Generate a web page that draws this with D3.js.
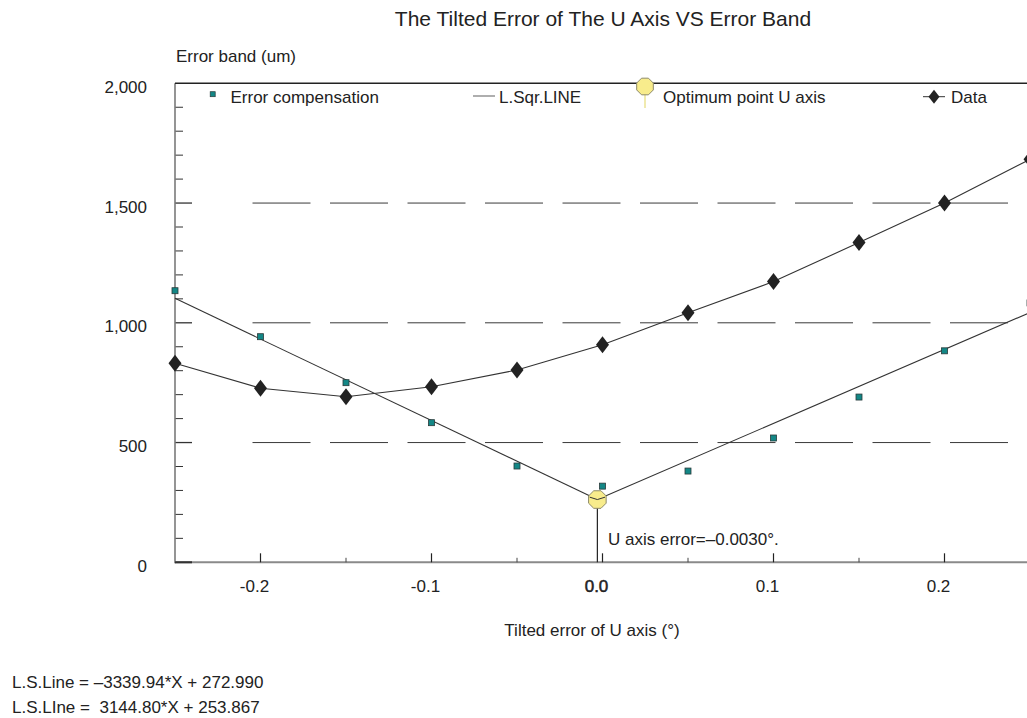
<!DOCTYPE html>
<html>
<head>
<meta charset="utf-8">
<script src="https://cdn.jsdelivr.net/npm/d3@7"></script>
<style>
  body { margin: 0; background: #fff; }
  svg { display: block; font-family: "Liberation Sans", Arial, Helvetica, sans-serif; }
  text { fill: #222; }
</style>
</head>
<body>
<div id="d3-container"></div>
<script>
/**
 * DATA
 * */
const tiltX = [-0.25, -0.2, -0.15, -0.1, -0.05, 0.0, 0.05, 0.1, 0.15, 0.2, 0.25];
const dataBand = [831, 727, 691, 733, 803, 908, 1042, 1172, 1335, 1500, 1683];
const compBand = [1134, 942, 750, 583, 402, 318, 381, 519, 690, 883, 1083];
// least squares lines, both ending at the optimum point
const lsqLeft = [[-0.25, 1102], [-0.003, 262]];
const lsqRight = [[-0.003, 262], [0.25, 1043]];
const optimum = { x: -0.003, y: 262 };
// small V drawn inside the optimum marker
const optimumV = [[-0.0075, 272], [-0.003, 262], [0.0015, 272]];
const yTicks = [0, 500, 1000, 1500, 2000];
const yMinor = d3.range(0, 2001, 100);
const xTicks = [-0.2, -0.1, 0.0, 0.1, 0.2];
const xMinor = [-0.15, -0.05, 0.05, 0.15];
const xTickLabels = ["-0.2", "-0.1", "0.0", "0.1", "0.2"];
const legendItems = ["Error compensation", "L.Sqr.LINE", "Optimum point U axis", "Data"];
const equations = ["L.S.Line = \u20133339.94*X + 272.990", "L.S.LIne =  3144.80*X + 253.867"];

/**
 * CONSTANTS
 * */
const width = 1027, height = 718;
const x = d3.scaleLinear().domain([-0.25, 0.25]).range([175, 1030]);
const y = d3.scaleLinear().domain([0, 2000]).range([562.3, 83.3]);

const svg = d3.select("#d3-container")
  .append("svg")
  .attr("width", width)
  .attr("height", height);

// title + axis titles
svg.append("text")
  .attr("x", 603).attr("y", 26)
  .attr("text-anchor", "middle")
  .style("font-size", "21px")
  .text("The Tilted Error of The U Axis VS Error Band");

svg.append("text")
  .attr("x", 176).attr("y", 61.5)
  .style("font-size", "17px")
  .text("Error band (um)");

svg.append("text")
  .attr("x", 592).attr("y", 636)
  .attr("text-anchor", "middle")
  .style("font-size", "17px")
  .text("Tilted error of U axis (\u00b0)");

// dashed gridlines (start a dash-length after the axis)
svg.append("g")
  .selectAll("line")
  .data(yTicks.filter(d => d > 0 && d < 2000))
  .join("line")
  .attr("x1", x(-0.25) + 58).attr("x2", width)
  .attr("y1", d => y(d)).attr("y2", d => y(d))
  .attr("stroke", "#3a3a3a")
  .attr("stroke-width", 1)
  .attr("stroke-dasharray", "58,19.5")
  .attr("stroke-dashoffset", 58);

// y axis
const yAxis = svg.append("g");
yAxis.selectAll(".minor")
  .data(yMinor.filter(d => d % 500 !== 0))
  .join("line")
  .attr("x1", x(-0.25)).attr("x2", x(-0.25) + 8)
  .attr("y1", d => y(d)).attr("y2", d => y(d))
  .attr("stroke", "#333").attr("stroke-width", 1);
yAxis.selectAll(".major")
  .data(yTicks.filter(d => d < 2000))
  .join("line")
  .attr("x1", x(-0.25)).attr("x2", x(-0.25) + 17)
  .attr("y1", d => y(d)).attr("y2", d => y(d))
  .attr("stroke", "#333").attr("stroke-width", 1.3);
yAxis.append("line")
  .attr("x1", x(-0.25)).attr("x2", x(-0.25))
  .attr("y1", y(2000)).attr("y2", y(0) + 1)
  .attr("stroke", "#7a7a7a").attr("stroke-width", 1.6);
yAxis.selectAll("text")
  .data(yTicks)
  .join("text")
  .attr("x", 147).attr("y", d => y(d) + 9.5)
  .attr("text-anchor", "end")
  .style("font-size", "17px")
  .text(d => d3.format(",")(d));

// top frame line
svg.append("line")
  .attr("x1", x(-0.25)).attr("x2", width)
  .attr("y1", y(2000)).attr("y2", y(2000))
  .attr("stroke", "#222").attr("stroke-width", 1.5);

// x axis
const xAxis = svg.append("g");
xAxis.append("line")
  .attr("x1", x(-0.25)).attr("x2", width)
  .attr("y1", y(0)).attr("y2", y(0))
  .attr("stroke", "#8a8a8a").attr("stroke-width", 2);
xAxis.append("line")
  .attr("x1", x(-0.25)).attr("x2", x(-0.25) + 17)
  .attr("y1", y(0)).attr("y2", y(0))
  .attr("stroke", "#333").attr("stroke-width", 2);
xAxis.selectAll(".major")
  .data(xTicks)
  .join("line")
  .attr("x1", d => x(d)).attr("x2", d => x(d))
  .attr("y1", y(0) - 9).attr("y2", y(0))
  .attr("stroke", "#222").attr("stroke-width", 1.2);
xAxis.selectAll(".minor")
  .data(xMinor)
  .join("line")
  .attr("x1", d => x(d)).attr("x2", d => x(d))
  .attr("y1", y(0) - 4.5).attr("y2", y(0))
  .attr("stroke", "#444").attr("stroke-width", 1);
xAxis.selectAll("text")
  .data(xTicks)
  .join("text")
  .attr("x", d => x(d) - 6).attr("y", 592)
  .attr("text-anchor", "middle")
  .style("font-size", "17px")
  .style("stroke", (d, i) => xTickLabels[i] === "0.0" ? "#222" : "none")
  .style("stroke-width", 0.5)
  .text((d, i) => xTickLabels[i]);

// lines
const line = d3.line().x(d => x(d[0])).y(d => y(d[1]));
const dataPts = tiltX.map((t, i) => [t, dataBand[i]]);

svg.append("path")
  .datum(dataPts)
  .attr("d", line)
  .attr("fill", "none").attr("stroke", "#333").attr("stroke-width", 1.1);

[lsqLeft, lsqRight].forEach(seg => {
  svg.append("path")
    .datum(seg)
    .attr("d", line)
    .attr("fill", "none").attr("stroke", "#333").attr("stroke-width", 1.1);
});

// vertical line from the optimum point down to the axis
svg.append("line")
  .attr("x1", x(optimum.x)).attr("x2", x(optimum.x))
  .attr("y1", y(optimum.y)).attr("y2", y(0))
  .attr("stroke", "#222").attr("stroke-width", 1.2);

svg.append("text")
  .attr("x", 608).attr("y", 545)
  .style("font-size", "17px")
  .text("U axis error=\u20130.0030\u00b0.");

// markers
const octagon = (r) => {
  const pts = d3.range(8).map(k => {
    const a = Math.PI / 8 + k * Math.PI / 4;
    return [r * Math.cos(a), r * Math.sin(a)];
  });
  return "M" + pts.map(p => p.join(",")).join("L") + "Z";
};
const diamond = (w, h) => `M0,${-h / 2}L${w / 2},0L0,${h / 2}L${-w / 2},0Z`;

svg.append("g")
  .selectAll("rect")
  .data(tiltX.map((t, i) => [t, compBand[i]]))
  .join("rect")
  .attr("x", d => x(d[0]) - 3).attr("y", d => y(d[1]) - 3)
  .attr("width", 6).attr("height", 6)
  .attr("fill", "#138786").attr("stroke", "#2a3a3a").attr("stroke-width", 0.8);

svg.append("g")
  .selectAll("path")
  .data(dataPts)
  .join("path")
  .attr("transform", d => `translate(${x(d[0])},${y(d[1])})`)
  .attr("d", diamond(13, 17))
  .attr("fill", "#222");

svg.append("path")
  .attr("transform", `translate(${x(optimum.x)},${y(optimum.y)})`)
  .attr("d", octagon(9.5))
  .attr("fill", "#f8ec8c").attr("stroke", "#8d8a6a").attr("stroke-width", 1);
svg.append("path")
  .datum(optimumV)
  .attr("d", line)
  .attr("fill", "none").attr("stroke", "#333").attr("stroke-width", 1);

// legend
const lg = svg.append("g").style("font-size", "17px");
const ly = 96.7;
lg.append("rect")
  .attr("x", 210.2).attr("y", ly - 5).attr("width", 5).attr("height", 5)
  .attr("fill", "#138786").attr("stroke", "#2a3a3a").attr("stroke-width", 0.7);
lg.append("text").attr("x", 230.5).attr("y", ly + 6).text(legendItems[0]);

lg.append("line")
  .attr("x1", 473).attr("x2", 495).attr("y1", ly - 0.7).attr("y2", ly - 0.7)
  .attr("stroke", "#777").attr("stroke-width", 1.2);
lg.append("text").attr("x", 499).attr("y", ly + 6).text(legendItems[1]);

lg.append("line")
  .attr("x1", 645).attr("x2", 645).attr("y1", 94).attr("y2", 108)
  .attr("stroke", "#e6dc7a").attr("stroke-width", 1.2);
lg.append("path")
  .attr("transform", "translate(645,86.5)")
  .attr("d", octagon(9))
  .attr("fill", "#f8ec8c").attr("stroke", "#8d8a6a").attr("stroke-width", 1);
lg.append("text").attr("x", 663).attr("y", ly + 6).text(legendItems[2]);

lg.append("line")
  .attr("x1", 923).attr("x2", 945).attr("y1", ly).attr("y2", ly)
  .attr("stroke", "#333").attr("stroke-width", 1);
lg.append("path")
  .attr("transform", `translate(934,${ly})`)
  .attr("d", diamond(11, 14))
  .attr("fill", "#222");
lg.append("text").attr("x", 951).attr("y", ly + 6).text(legendItems[3]);

// equations
svg.append("g")
  .selectAll("text")
  .data(equations)
  .join("text")
  .attr("x", 12).attr("y", (d, i) => 688 + i * 25)
  .style("font-size", "17px")
  .attr("xml:space", "preserve")
  .text(d => d);
</script>
</body>
</html>
